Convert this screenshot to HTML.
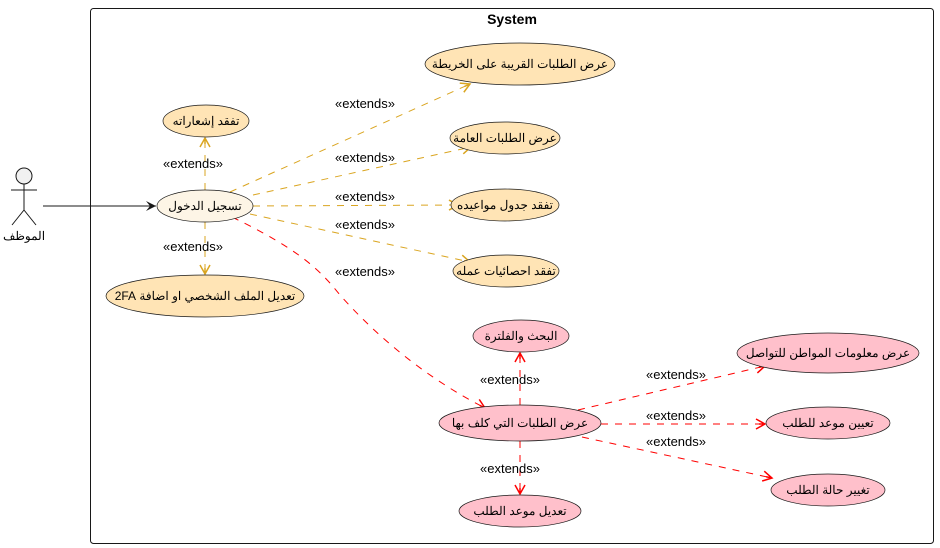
<!DOCTYPE html>
<html><head><meta charset="utf-8"><style>body{margin:0;background:#fff}svg{display:block}text{font-family:"Liberation Sans","Noto Sans CJK SC",sans-serif}</style></head><body>
<svg width="940" height="548" viewBox="0 0 940 548" xmlns="http://www.w3.org/2000/svg">
<defs>
<marker id="ao" markerWidth="12" markerHeight="12" refX="10" refY="6" orient="auto" markerUnits="userSpaceOnUse"><path d="M1,1 L10,6 L1,11 M10,6 L4,6" fill="none" stroke="#DAA520" stroke-width="1.5"/></marker>
<marker id="ar" markerWidth="12" markerHeight="12" refX="10" refY="6" orient="auto" markerUnits="userSpaceOnUse"><path d="M1,1 L10,6 L1,11 M10,6 L4,6" fill="none" stroke="#f00" stroke-width="1.5"/></marker>
<marker id="ab" markerWidth="12" markerHeight="12" refX="10" refY="6" orient="auto" markerUnits="userSpaceOnUse"><path d="M0,1 L10,6 L0,11 L4,6 Z" fill="#181818"/></marker>
</defs>
<rect x="90.5" y="8.5" width="843" height="535" rx="3" fill="#fff" stroke="#181818"/>
<text x="512" y="24" font-size="14" font-weight="bold" text-anchor="middle">System</text>
<circle cx="24" cy="176" r="8" fill="#f1f1f1" stroke="#181818"/>
<path d="M24,184 V210 M11,190 H37 M24,210 L12,225 M24,210 L36,225" stroke="#181818" fill="none"/>
<text x="24" y="240" font-size="12" text-anchor="middle">الموظف</text>
<line x1="43" y1="206" x2="156" y2="206" stroke="#181818" marker-end="url(#ab)"/>
<g stroke="#DAA520" fill="none" stroke-dasharray="7,7" marker-end="url(#ao)">
<line x1="205" y1="190" x2="205" y2="138"/>
<line x1="205" y1="222" x2="205" y2="274"/>
<line x1="230" y1="192" x2="470" y2="84"/>
<line x1="253" y1="195" x2="471" y2="147"/>
<line x1="253" y1="206" x2="458" y2="205"/>
<line x1="250" y1="214" x2="470" y2="262"/>
</g>
<g stroke="#f00" fill="none" stroke-dasharray="7,7" marker-end="url(#ar)">
<path d="M232,217 C300,250 320,270 340,295 C380,340 430,380 485,408"/>
<line x1="520" y1="405" x2="520" y2="353"/>
<line x1="520" y1="441" x2="520" y2="494"/>
<line x1="578" y1="410" x2="765" y2="366"/>
<line x1="601" y1="424" x2="765" y2="424"/>
<line x1="582" y1="437" x2="772" y2="478"/>
</g>
<g font-size="13" text-anchor="middle" fill="#000">
<text x="193" y="168">«extends»</text>
<text x="193" y="251">«extends»</text>
<text x="365" y="108">«extends»</text>
<text x="365" y="162">«extends»</text>
<text x="365" y="201">«extends»</text>
<text x="365" y="229">«extends»</text>
<text x="365" y="276">«extends»</text>
<text x="510" y="384">«extends»</text>
<text x="510" y="473">«extends»</text>
<text x="676" y="379">«extends»</text>
<text x="676" y="420">«extends»</text>
<text x="676" y="446">«extends»</text>
</g>
<g stroke="#181818" stroke-width="0.7">
<ellipse cx="205" cy="206" rx="48" ry="16" fill="#fdf5e6"/>
<ellipse cx="206" cy="121" rx="43" ry="16" fill="#ffe4b5"/>
<ellipse cx="205" cy="296" rx="99" ry="21" fill="#ffe4b5"/>
<ellipse cx="520" cy="64" rx="95" ry="21" fill="#ffe4b5"/>
<ellipse cx="505" cy="138" rx="55" ry="16" fill="#ffe4b5"/>
<ellipse cx="505" cy="205" rx="54" ry="16" fill="#ffe4b5"/>
<ellipse cx="506" cy="271" rx="53" ry="16" fill="#ffe4b5"/>
<ellipse cx="521" cy="336" rx="48" ry="16" fill="#ffc0cb"/>
<ellipse cx="520" cy="423" rx="81" ry="18" fill="#ffc0cb"/>
<ellipse cx="520" cy="511" rx="61" ry="16" fill="#ffc0cb"/>
<ellipse cx="828" cy="353" rx="91" ry="20" fill="#ffc0cb"/>
<ellipse cx="828" cy="423" rx="62" ry="16" fill="#ffc0cb"/>
<ellipse cx="828" cy="490" rx="57" ry="16" fill="#ffc0cb"/>
</g>
<g font-size="12" text-anchor="middle" fill="#000">
<text x="205" y="210">تسجيل الدخول</text>
<text x="206" y="125">تفقد إشعاراته</text>
<text x="205" y="300" direction="rtl">تعديل الملف الشخصي او اضافة 2FA</text>
<text x="520" y="68">عرض الطلبات القريبة على الخريطة</text>
<text x="505" y="142">عرض الطلبات العامة</text>
<text x="505" y="209">تفقد جدول مواعيده</text>
<text x="506" y="275">تفقد احصائيات عمله</text>
<text x="521" y="340">البحث والفلترة</text>
<text x="520" y="427">عرض الطلبات التي كلف بها</text>
<text x="520" y="515">تعديل موعد الطلب</text>
<text x="828" y="357">عرض معلومات المواطن للتواصل</text>
<text x="828" y="427">تعيين موعد للطلب</text>
<text x="828" y="494">تغيير حالة الطلب</text>
</g>
</svg>
</body></html>
